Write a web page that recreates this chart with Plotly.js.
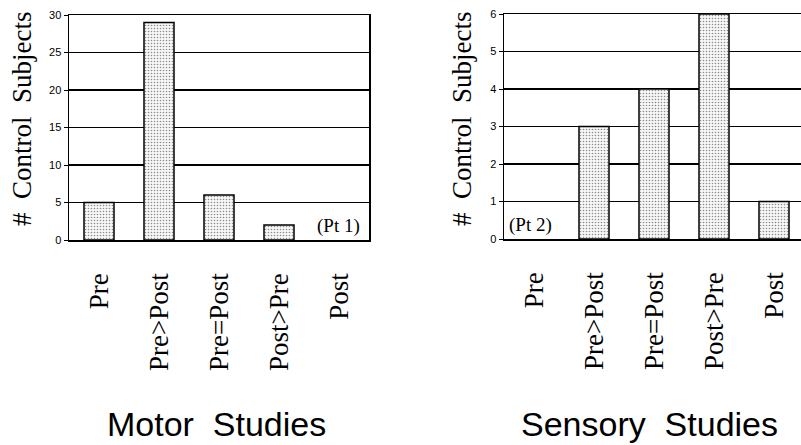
<!DOCTYPE html>
<html>
<head>
<meta charset="utf-8">
<script src="https://cdn.plot.ly/plotly-3.0.1.min.js"></script>
<style>
html,body{margin:0;padding:0;background:#fff;}
#chart{width:801px;height:445px;}
</style>
</head>
<body>
<div id="chart"></div>
<script>
// Data
var categories = ["Pre", "Pre>Post", "Pre=Post", "Post>Pre", "Post"];
var motorCounts = [5, 29, 6, 2, 0];
var sensoryCounts = [0, 3, 4, 6, 1];
var motorTicks = [0, 5, 10, 15, 20, 25, 30];
var sensoryTicks = [0, 1, 2, 3, 4, 5, 6];
var yTitle = "#  Control  Subjects";
var panelTitles = ["Motor  Studies", "Sensory  Studies"];
var panelNotes = ["(Pt 1)", "(Pt 2)"];

var W = 801, H = 445;
function px(x){ return x / W; }
function py(y){ return 1 - y / H; }

function outlineWidths(vals){ return vals.map(function(v){ return v > 0 ? 1.5 : 0; }); }

function barMarker(vals){
  return {
    color: "#f4f4f4",
    line: {color: "#000", width: outlineWidths(vals)},
    pattern: {shape: ".", fgcolor: "#8c8c8c", bgcolor: "#f7f7f7", size: 3, solidity: 0.22}
  };
}

var traces = [
  {type: "bar", x: categories, y: motorCounts, xaxis: "x", yaxis: "y", marker: barMarker(motorCounts), hoverinfo: "x+y"},
  {type: "bar", x: categories, y: sensoryCounts, xaxis: "x2", yaxis: "y2", marker: barMarker(sensoryCounts), hoverinfo: "x+y"}
];

var serif = "Liberation Serif, Times New Roman, serif";
var sans = "Liberation Sans, Arial, Helvetica, sans-serif";

function xAxis(domain, range, anchor){
  return {
    domain: domain, anchor: anchor, type: "category",
    range: range, automargin: false,
    showline: true, linecolor: "#000", linewidth: 1.5, mirror: true,
    showgrid: false, zeroline: false, ticks: "",
    tickangle: -90, ticklabelstandoff: 21,
    tickfont: {family: serif, size: 27, color: "#000"},
    fixedrange: true
  };
}
function yAxis(domain, range, tickvals, anchor){
  return {
    domain: domain, anchor: anchor, range: range, automargin: false,
    tickmode: "array", tickvals: tickvals,
    showline: true, linecolor: "#000", linewidth: 1.5, mirror: true,
    showgrid: true, gridcolor: "#000", gridwidth: 1.5, zeroline: false,
    ticks: "outside", ticklen: 4, tickwidth: 1, tickcolor: "#000",
    tickfont: {family: sans, size: 11, color: "#000"},
    fixedrange: true
  };
}

var layout = {
  width: W, height: H,
  margin: {l: 0, r: 0, t: 0, b: 0, pad: 0},
  paper_bgcolor: "#fff", plot_bgcolor: "#fff",
  showlegend: false,
  bargap: 0.5,
  xaxis: xAxis([px(69), px(369)], [-0.5, 4.5], "y"),
  yaxis: yAxis([py(240), py(15)], [0, 30], motorTicks, "x"),
  xaxis2: xAxis([px(504), 1], [-0.5, 4.45], "y2"),
  yaxis2: yAxis([py(239), py(14)], [0, 6], sensoryTicks, "x2"),
  annotations: [
    {xref: "paper", yref: "paper", x: px(22), y: py(119), text: yTitle, textangle: -90,
     showarrow: false, font: {family: serif, size: 27, color: "#000"}, xanchor: "center", yanchor: "middle"},
    {xref: "paper", yref: "paper", x: px(462), y: py(119), text: yTitle, textangle: -90,
     showarrow: false, font: {family: serif, size: 27, color: "#000"}, xanchor: "center", yanchor: "middle"},
    {xref: "paper", yref: "paper", x: px(216), y: py(424), text: panelTitles[0],
     showarrow: false, font: {family: sans, size: 34, color: "#000"}, xanchor: "center", yanchor: "middle"},
    {xref: "paper", yref: "paper", x: px(649), y: py(424), text: panelTitles[1],
     showarrow: false, font: {family: sans, size: 34, color: "#000"}, xanchor: "center", yanchor: "middle"},
    {xref: "x", yref: "paper", x: 4.38, y: py(239), text: panelNotes[0],
     showarrow: false, font: {family: serif, size: 19, color: "#000"}, xanchor: "right", yanchor: "bottom"},
    {xref: "x2", yref: "paper", x: -0.45, y: py(238), text: panelNotes[1],
     showarrow: false, font: {family: serif, size: 19, color: "#000"}, xanchor: "left", yanchor: "bottom"}
  ]
};

Plotly.newPlot("chart", traces, layout, {staticPlot: true, displayModeBar: false});
</script>
</body>
</html>
